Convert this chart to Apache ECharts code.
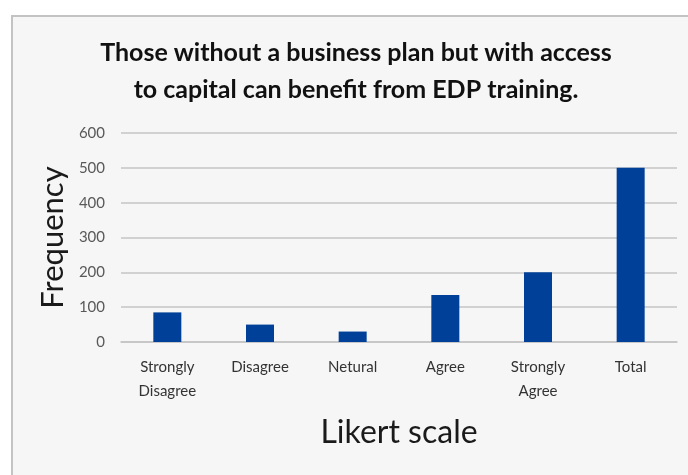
<!DOCTYPE html>
<html>
<head>
<meta charset="utf-8">
<script src="https://cdn.jsdelivr.net/npm/echarts@6/dist/echarts.min.js"></script>
<style>
  html, body { margin: 0; padding: 0; background: #ffffff; }
  #chart { width: 688px; height: 475px; }
</style>
</head>
<body>
<div id="chart"></div>
<script>
// Survey responses on the Likert scale
const categories = ['Strongly\nDisagree', 'Disagree', 'Netural', 'Agree', 'Strongly\nAgree', 'Total'];
const frequency = [85, 50, 30, 135, 200, 500];
const yTicks = { min: 0, max: 600, interval: 100 };

const titleLines = 'Those without a business plan but with access\nto capital can benefit from EDP training.';
const FONT = 'Lato, "Open Sans", sans-serif';

const chart = echarts.init(document.getElementById('chart'), null, { renderer: 'canvas' });

chart.setOption({
  animation: false,
  backgroundColor: '#ffffff',
  graphic: [{
    type: 'rect',
    z: -10,
    silent: true,
    shape: { x: 12, y: 16, width: 720, height: 500 },
    style: { fill: '#f6f6f6', stroke: '#c3c3c3', lineWidth: 2 }
  }],
  title: {
    text: titleLines,
    left: 351,
    top: 29,
    textAlign: 'center',
    textStyle: {
      fontFamily: FONT,
      fontWeight: 'bold',
      fontSize: 25,
      lineHeight: 37,
      color: '#111111'
    }
  },
  grid: { left: 121, right: 11, top: 133, bottom: 133, containLabel: false },
  xAxis: {
    type: 'category',
    data: categories,
    name: 'Likert scale',
    nameLocation: 'middle',
    nameGap: 75,
    nameTextStyle: { fontFamily: FONT, fontSize: 32, color: '#1a1a1a' },
    axisLine: { show: true, lineStyle: { color: '#c4c4c4', width: 1.5 } },
    axisTick: { show: false },
    axisLabel: {
      interval: 0,
      margin: 13,
      fontFamily: FONT,
      fontSize: 15,
      lineHeight: 24,
      color: '#333333'
    }
  },
  yAxis: {
    type: 'value',
    min: yTicks.min,
    max: yTicks.max,
    interval: yTicks.interval,
    name: 'Frequency',
    nameLocation: 'middle',
    nameGap: 45,
    nameRotate: 90,
    nameTextStyle: { fontFamily: FONT, fontSize: 31, color: '#1a1a1a' },
    axisLine: { show: false },
    axisTick: { show: false },
    axisLabel: { margin: 16, fontFamily: FONT, fontSize: 15, color: '#595959' },
    splitLine: { lineStyle: { color: '#c4c4c4', width: 1.5 } }
  },
  series: [{
    type: 'bar',
    data: frequency,
    barWidth: 28,
    itemStyle: { color: '#004098' }
  }]
});
</script>
</body>
</html>
